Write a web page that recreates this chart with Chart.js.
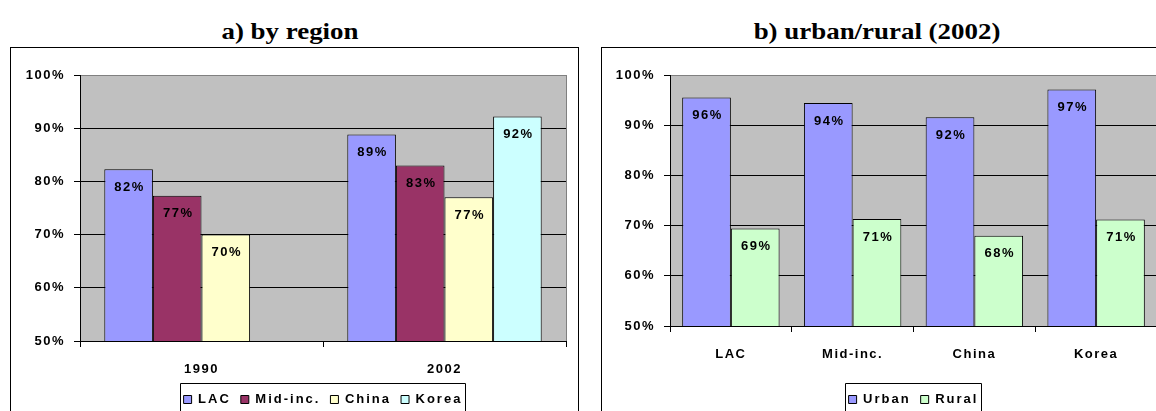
<!DOCTYPE html>
<html>
<head>
<meta charset="utf-8">
<script src="https://cdn.jsdelivr.net/npm/chart.js@4.4.1/dist/chart.umd.min.js"></script>
<style>
  html, body { margin: 0; padding: 0; background: #fff; }
  body { position: relative; width: 1156px; height: 411px; overflow: hidden; }
  .title {
    position: absolute; top: 20px; width: 400px; text-align: center;
    font: bold 23px/23px "Liberation Serif", "Times New Roman", serif; color: #000;
    transform: scaleX(1.17); white-space: nowrap;
  }
  .frame { position: absolute; top: 47px; width: 567px; height: 420px; border: 1px solid #000; background: #fff; }
  .frame canvas { display: block; }
</style>
</head>
<body>
<div class="title" style="left:90px">a) by region</div>
<div class="title" style="left:677px">b) urban/rural (2002)</div>
<div class="frame" style="left:10px"><canvas id="byRegion" width="567" height="370"></canvas></div>
<div class="frame" style="left:601px"><canvas id="urbanRural" width="567" height="370"></canvas></div>

<script>
// ---- data: share of households, percent ----
const regionYears = ['1990', '2002'];
const lacShare    = [82.3, 88.8];
const midIncShare = [77.3, 83.0];
const chinaShare  = [70.0, 77.0];
const koreaShare  = [null, 92.2];

const areaGroups  = ['LAC', 'Mid-inc.', 'China', 'Korea'];
const urbanShare  = [95.5, 94.4, 91.6, 97.1];
const ruralShare  = [69.4, 71.3, 68.0, 71.2];

const axisMin = 50, axisMax = 100, axisStep = 10;

// ---- shared styling ----
const FONT = "'Liberation Sans', Arial, sans-serif";
const SPACING = '1.5px';         // axis and value labels
const LEGEND_SPACING = '2px';    // legend entries

// Excel-like plot frame: grey plot background, grey right edge,
// value labels inside the bar tops and a box round the legend.
const excelLook = {
  id: 'excelLook',
  afterInit(chart) {
    const lg = chart.legend;
    if (!lg) return;
    const ctx = chart.ctx;
    const wrap = fn => function (...args) {
      const prev = ctx.letterSpacing;
      ctx.letterSpacing = LEGEND_SPACING;
      const r = fn.apply(this, args);
      ctx.letterSpacing = prev;
      return r;
    };
    lg.fit = wrap(lg.fit);
    lg.draw = wrap(lg.draw);
  },
  beforeUpdate(chart) { chart.ctx.letterSpacing = SPACING; },
  beforeLayout(chart) { chart.ctx.letterSpacing = SPACING; },
  beforeDraw(chart) {
    const { ctx, chartArea: a } = chart;
    ctx.letterSpacing = SPACING;
    ctx.save();
    ctx.fillStyle = '#c0c0c0';
    ctx.fillRect(a.left, a.top, a.right - a.left, a.bottom - a.top);
    ctx.restore();
  },
  beforeDatasetsDraw(chart) {
    const { ctx, chartArea: a } = chart;
    const x = Math.round(a.right) + 0.5;
    ctx.save();
    ctx.strokeStyle = '#808080';
    ctx.lineWidth = 1;
    ctx.beginPath();
    ctx.moveTo(x, a.top);
    ctx.lineTo(x, a.bottom);
    ctx.stroke();
    ctx.restore();
  },
  afterDatasetsDraw(chart) {
    const { ctx } = chart;
    ctx.save();
    ctx.letterSpacing = SPACING;
    ctx.font = 'bold 13px ' + FONT;
    ctx.fillStyle = '#000';
    ctx.textAlign = 'center';
    ctx.textBaseline = 'middle';
    chart.data.datasets.forEach((ds, i) => {
      chart.getDatasetMeta(i).data.forEach((bar, j) => {
        const v = ds.data[j];
        if (v === null || v === undefined) return;
        ctx.fillText(Math.round(v) + '%', bar.x + 1, bar.y + 18);
      });
    });
    ctx.restore();
  },
  afterDraw(chart) {
    const lg = chart.legend;
    if (!lg || !lg.legendHitBoxes.length) return;
    const boxes = lg.legendHitBoxes;
    const left = Math.round(Math.min(...boxes.map(b => b.left)) - 4) + 0.5;
    const right = Math.round(Math.max(...boxes.map(b => b.left + b.width)) + 3) + 0.5;
    const top = Math.round(lg.top) + 0.5;
    const bottom = chart.height + 2;
    const { ctx } = chart;
    ctx.save();
    ctx.strokeStyle = '#000';
    ctx.lineWidth = 1;
    ctx.beginPath();
    ctx.moveTo(left, bottom);
    ctx.lineTo(left, top);
    ctx.lineTo(right, top);
    ctx.lineTo(right, bottom);
    ctx.stroke();
    ctx.restore();
  }
};

function barSet(label, data, color) {
  return {
    label, data,
    backgroundColor: color,
    borderColor: '#000',
    borderWidth: 1,
    categoryPercentage: 0.8,
    barPercentage: 1.0
  };
}

function makeOptions(axisWidth, xAxisHeight) {
  return {
    responsive: false,
    animation: false,
    devicePixelRatio: 1,
    layout: { padding: { top: 27, right: 12, bottom: 2, left: 0 } },
    plugins: {
      tooltip: { enabled: false },
      title: { display: false },
      legend: {
        position: 'bottom',
        fullSize: false,
        labels: {
          boxWidth: 8,
          boxHeight: 8,
          padding: 10,
          color: '#000',
          font: { family: FONT, size: 13, weight: 'bold' }
        }
      }
    },
    scales: {
      x: {
        grid: { display: true, drawOnChartArea: false, drawTicks: true, tickLength: 6, color: '#000', offset: true },
        border: { display: true, color: '#000', width: 1 },
        ticks: { color: '#000', padding: 15, font: { family: FONT, size: 13, weight: 'bold' } },
        afterFit(scale) { scale.height = xAxisHeight; }
      },
      y: {
        min: axisMin,
        max: axisMax,
        grid: {
          color: c => (c.tick && c.tick.value === axisMax) ? '#808080' : '#000',
          tickColor: '#000',
          tickLength: 6,
          lineWidth: 1
        },
        border: { display: true, color: '#000', width: 1 },
        ticks: {
          stepSize: axisStep,
          padding: 9,
          color: '#000',
          font: { family: FONT, size: 13, weight: 'bold' },
          callback: v => v + '%'
        },
        afterFit(scale) { scale.width = axisWidth; }
      }
    }
  };
}

new Chart(document.getElementById('byRegion'), {
  type: 'bar',
  data: {
    labels: regionYears,
    datasets: [
      barSet('LAC', lacShare, '#9999ff'),
      barSet('Mid-inc.', midIncShare, '#993366'),
      barSet('China', chinaShare, '#ffffcc'),
      barSet('Korea', koreaShare, '#ccffff')
    ]
  },
  options: makeOptions(69, 42),
  plugins: [excelLook]
});

new Chart(document.getElementById('urbanRural'), {
  type: 'bar',
  data: {
    labels: areaGroups,
    datasets: [
      barSet('Urban', urbanShare, '#9999ff'),
      barSet('Rural', ruralShare, '#ccffcc')
    ]
  },
  options: makeOptions(68, 57),
  plugins: [excelLook]
});
</script>
</body>
</html>
